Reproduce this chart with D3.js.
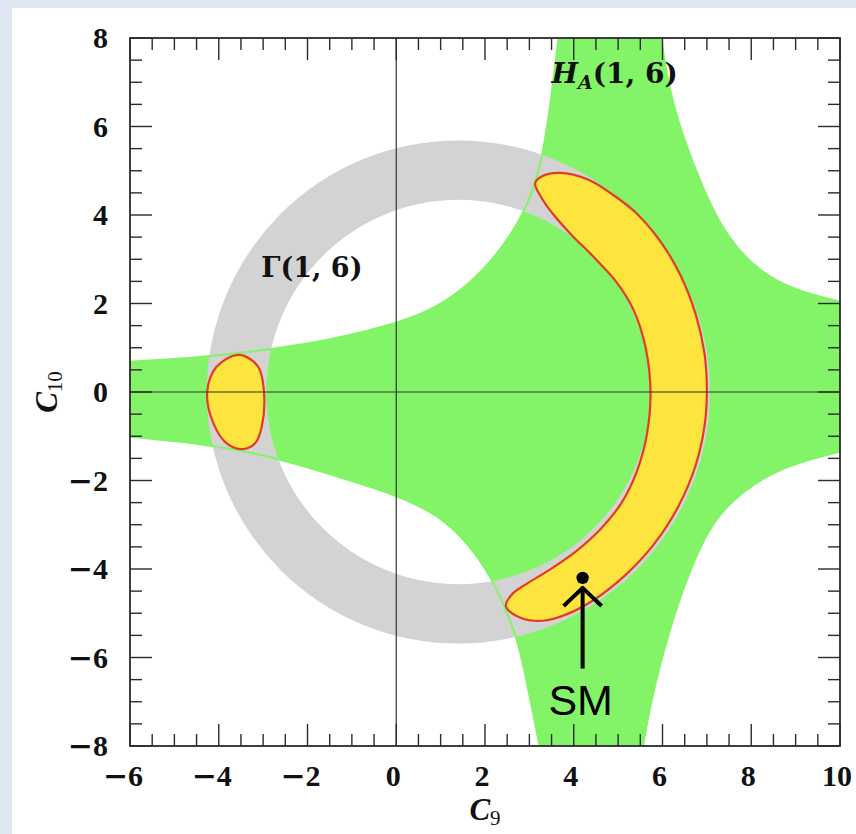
<!DOCTYPE html>
<html>
<head>
<meta charset="utf-8">
<script src="https://cdn.jsdelivr.net/npm/d3@7"></script>
<style>
  html, body { margin: 0; padding: 0; background: #dfe7f2; }
  svg { display: block; }
</style>
</head>
<body>
<svg id="chart" width="856" height="834"></svg>
<script>
// ---- axis ranges and ticks ----
const xDomain = [-6, 10];
const yDomain = [-8, 8];
const xMajorTicks = [-6, -4, -2, 0, 2, 4, 6, 8, 10];
const yMajorTicks = [-8, -6, -4, -2, 0, 2, 4, 6, 8];
const minorStep = 0.5;

// ---- Γ(1,6) band: annulus centre (C9, C10) and inner/outer radii ----
const gammaCenter = [1.4, 0];
const gammaRadii = [4.33, 5.67];

// ---- H_A(1,6) allowed region: its four boundary curves (C9, C10) ----
const haUpperLeft = [[-6, 0.685], [-4.42, 0.78], [-2.92, 0.95], [-1.42, 1.18], [0, 1.55], [0.72, 1.817],
  [1.47, 2.283], [2.113, 2.915], [2.563, 3.525], [2.879, 4.068], [3.104, 4.61], [3.273, 5.243],
  [3.408, 6.034], [3.521, 6.87], [3.656, 8]];
const haUpperRight = [[5.97, 8], [6.12, 6.98], [6.42, 5.85], [6.95, 4.49], [7.48, 3.44], [8.23, 2.68],
  [8.98, 2.3], [10, 2.04]];
const haLowerRight = [[10, -1.35], [8.98, -1.61], [8.23, -1.95], [7.48, -2.52], [7.03, -3.12], [6.65, -3.95],
  [6.27, -5.0], [5.97, -6.06], [5.73, -7.04], [5.56, -8]];
const haLowerLeft = [[3.23, -8], [3.04, -7.04], [2.84, -6.06], [2.68, -5.45], [2.43, -4.825], [2.19, -4.29],
  [1.84, -3.73], [1.47, -3.27], [1.08, -2.915], [0.72, -2.68], [0.01, -2.325], [-1.42, -1.88], [-2.92, -1.42],
  [-4.42, -1.16], [-6, -1.01]];

// ---- combined allowed regions (closed outlines) ----
const combinedRight = [[3.13, 4.72], [3.3, 4.88], [3.69, 4.95], [4.32, 4.8], [4.85, 4.48], [5.4, 4.05],
  [5.94, 3.42], [6.4, 2.65], [6.75, 1.75], [6.95, 0.85], [7.0, 0], [6.95, -0.75], [6.75, -1.65],
  [6.35, -2.6], [5.8, -3.45], [5.15, -4.15], [4.45, -4.7], [3.85, -5.02], [3.3, -5.17], [2.8, -5.1],
  [2.47, -4.84], [2.6, -4.58], [2.9, -4.36], [3.45, -4.02], [4.05, -3.6], [4.6, -3.1], [5.08, -2.5],
  [5.42, -1.8], [5.65, -0.95], [5.73, 0], [5.62, 1.0], [5.35, 1.85], [4.95, 2.5], [4.45, 3.05],
  [3.95, 3.55], [3.55, 4.0], [3.28, 4.38]];
const combinedLeft = [[-3.54, 0.84], [-3.11, 0.57], [-2.98, 0], [-3.03, -0.78], [-3.18, -1.16], [-3.45, -1.29],
  [-3.82, -1.16], [-4.12, -0.71], [-4.26, 0], [-4.05, 0.57]];

// ---- Standard Model point and its arrow ----
const smPoint = [4.2, -4.2];
const smArrow = [[4.2, -6.25], [4.2, -4.45]];
const smLabel = { text: "SM", at: [4.2, -7.3] };

// ---- region labels ----
const gammaLabel = { at: [-3.04, 2.6] };
const haLabel = { at: [3.5, 6.98] };

// ---- layout ----
const W = 856, H = 834;
const plot = { left: 130, right: 840, top: 38, bottom: 746 };
const colors = {
  green: "#83f468", gray: "#d3d3d3", yellow: "#fde43f", red: "#e23c26",
  frame: "#2b2b2b", text: "#111"
};
const tickFont = "'Liberation Serif', 'Times New Roman', serif";
const minusFont = "'DejaVu Serif', serif";

const svg = d3.select("#chart");
const x = d3.scaleLinear().domain(xDomain).range([plot.left, plot.right]);
const y = d3.scaleLinear().domain(yDomain).range([plot.bottom, plot.top]);

// page panel
svg.append("rect").attr("x", 0).attr("y", 0).attr("width", W).attr("height", H).attr("fill", "#dfe7f2");
svg.append("rect").attr("x", 12).attr("y", 8).attr("width", W - 12).attr("height", H - 8).attr("fill", "#fff");

svg.append("defs").append("clipPath").attr("id", "plotClip")
  .append("rect").attr("x", plot.left).attr("y", plot.top)
  .attr("width", plot.right - plot.left).attr("height", plot.bottom - plot.top);

const g = svg.append("g").attr("clip-path", "url(#plotClip)");

const smooth = d3.line().x(d => x(d[0])).y(d => y(d[1])).curve(d3.curveBasis);
const closedCurve = d3.line().x(d => x(d[0])).y(d => y(d[1])).curve(d3.curveCatmullRomClosed.alpha(0.5));

// H_A region fill: boundary curves joined along the frame edges
const haCurves = [haUpperLeft, haUpperRight, haLowerRight, haLowerLeft];
const haPath = haCurves.map((c, i) => {
  const p = smooth(c);
  return i === 0 ? p : p.replace(/^M/, "L");
}).join("") + "Z";
g.append("path").attr("d", haPath).attr("fill", colors.green);

// Γ band
const arc = d3.arc()
  .innerRadius(x(gammaCenter[0] + gammaRadii[0]) - x(gammaCenter[0]))
  .outerRadius(x(gammaCenter[0] + gammaRadii[1]) - x(gammaCenter[0]))
  .startAngle(0).endAngle(2 * Math.PI);
g.append("path").attr("d", arc())
  .attr("transform", `translate(${x(gammaCenter[0])},${y(gammaCenter[1])})`)
  .attr("fill", colors.gray);

// H_A boundary lines drawn over the band
haCurves.forEach(c => {
  g.append("path").attr("d", smooth(c)).attr("fill", "none")
    .attr("stroke", colors.green).attr("stroke-width", 2);
});

// combined regions
[combinedRight, combinedLeft].forEach(c => {
  g.append("path").attr("d", closedCurve(c))
    .attr("fill", colors.yellow).attr("stroke", colors.red).attr("stroke-width", 2.2);
});

// zero lines
g.append("line").attr("x1", x(0)).attr("x2", x(0)).attr("y1", plot.top).attr("y2", plot.bottom)
  .attr("stroke", "#333").attr("stroke-width", 1.2);
g.append("line").attr("x1", plot.left).attr("x2", plot.right).attr("y1", y(0)).attr("y2", y(0))
  .attr("stroke", "#333").attr("stroke-width", 1.2);

// frame and inward ticks on all four sides
const axesG = svg.append("g").attr("stroke", colors.frame).attr("stroke-width", 1.4).attr("fill", "none");
const xMinor = d3.range(xDomain[0], xDomain[1] + 1e-9, minorStep);
const yMinor = d3.range(yDomain[0], yDomain[1] + 1e-9, minorStep);
const isMajor = (v, list) => list.some(t => Math.abs(t - v) < 1e-9);
const majorLen = 22, minorLen = 12;

xMinor.forEach(v => {
  const L = isMajor(v, xMajorTicks) ? majorLen : minorLen;
  axesG.append("line").attr("x1", x(v)).attr("x2", x(v)).attr("y1", plot.bottom).attr("y2", plot.bottom - L);
  axesG.append("line").attr("x1", x(v)).attr("x2", x(v)).attr("y1", plot.top).attr("y2", plot.top + L);
});
yMinor.forEach(v => {
  const L = isMajor(v, yMajorTicks) ? majorLen : minorLen;
  axesG.append("line").attr("x1", plot.left).attr("x2", plot.left + L).attr("y1", y(v)).attr("y2", y(v));
  axesG.append("line").attr("x1", plot.right).attr("x2", plot.right - L).attr("y1", y(v)).attr("y2", y(v));
});
axesG.append("rect").attr("x", plot.left).attr("y", plot.top)
  .attr("width", plot.right - plot.left).attr("height", plot.bottom - plot.top)
  .attr("stroke-width", 1.8);

// tick labels: wide minus sign followed by the digits
function tickLabel(sel) {
  sel.each(function (d) {
    const t = d3.select(this);
    if (d < 0) t.append("tspan").attr("font-family", minusFont).text("\u2212");
    t.append("tspan").text(String(Math.abs(d)));
  });
}
svg.append("g").selectAll("text").data(xMajorTicks).join("text")
  .attr("x", d => x(d) - (d < 0 ? 7 : 3)).attr("y", plot.bottom + 40)
  .attr("text-anchor", "middle")
  .attr("font-family", tickFont).attr("font-weight", "bold").attr("font-size", 30)
  .attr("fill", colors.text).call(tickLabel);
svg.append("g").selectAll("text").data(yMajorTicks).join("text")
  .attr("x", plot.left - 22).attr("y", d => y(d)).attr("dy", "0.34em")
  .attr("text-anchor", "end")
  .attr("font-family", tickFont).attr("font-weight", "bold").attr("font-size", 30)
  .attr("fill", colors.text).call(tickLabel);

// axis titles
const xt = svg.append("text").attr("x", (plot.left + plot.right) / 2).attr("y", 820)
  .attr("text-anchor", "middle").attr("font-family", tickFont).attr("fill", colors.text);
xt.append("tspan").attr("font-style", "italic").attr("font-weight", "bold").attr("font-size", 31).text("C");
xt.append("tspan").attr("font-size", 21).attr("dy", 5).text("9");

const yt = svg.append("text").attr("transform", `translate(57,${(plot.top + plot.bottom) / 2}) rotate(-90)`)
  .attr("text-anchor", "middle").attr("font-family", tickFont).attr("fill", colors.text);
yt.append("tspan").attr("font-style", "italic").attr("font-weight", "bold").attr("font-size", 31).text("C");
yt.append("tspan").attr("font-size", 21).attr("dy", 5).text("10");

// region labels
const serifBold = "'DejaVu Serif', serif";
svg.append("text").attr("x", x(gammaLabel.at[0])).attr("y", y(gammaLabel.at[1]))
  .attr("font-family", serifBold).attr("font-weight", "bold").attr("font-size", 27)
  .attr("fill", colors.text).text("\u0393(1, 6)");

const ha = svg.append("text").attr("x", x(haLabel.at[0])).attr("y", y(haLabel.at[1]))
  .attr("font-family", serifBold).attr("font-weight", "bold").attr("font-size", 28).attr("fill", colors.text);
ha.append("tspan").attr("font-style", "italic").text("H");
ha.append("tspan").attr("font-style", "italic").attr("font-size", 19).attr("dy", 6).text("A");
ha.append("tspan").attr("dy", -6).text("(1, 6)");

// SM point, arrow and label
const sm = svg.append("g");
sm.append("circle").attr("cx", x(smPoint[0])).attr("cy", y(smPoint[1])).attr("r", 6.2).attr("fill", "#000");
const tail = smArrow[0], head = smArrow[1];
sm.append("line").attr("x1", x(tail[0])).attr("y1", y(tail[1])).attr("x2", x(head[0])).attr("y2", y(head[1]))
  .attr("stroke", "#000").attr("stroke-width", 4);
const hx = x(head[0]), hy = y(head[1]);
sm.append("path")
  .attr("d", `M${hx - 19},${hy + 17} Q${hx - 5},${hy + 4} ${hx},${hy - 1} Q${hx + 5},${hy + 4} ${hx + 19},${hy + 17}`)
  .attr("fill", "none").attr("stroke", "#000").attr("stroke-width", 4).attr("stroke-linejoin", "round");
sm.append("text").attr("x", x(smLabel.at[0]) - 2).attr("y", y(smLabel.at[1]))
  .attr("text-anchor", "middle")
  .attr("font-family", "'Liberation Sans', Arial, sans-serif").attr("font-size", 43)
  .attr("fill", "#000").text(smLabel.text);
</script>
</body>
</html>
